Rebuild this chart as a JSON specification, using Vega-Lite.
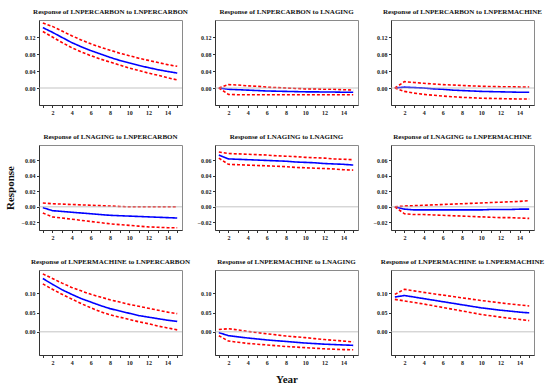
{
  "$schema": "https://vega.github.io/schema/vega-lite/v6.json",
  "padding": {"left": 3, "top": 7, "right": 5, "bottom": 4},
  "background": "white",
  "columns": 3,
  "spacing": {"row": 40, "column": 33},
  "bounds": "flush",
  "datasets": {
    "irf": [
      {"p":1,"x":1,"r":0.142,"lo":0.133,"hi":0.153},{"p":1,"x":2,"r":0.131,"lo":0.120,"hi":0.145},{"p":1,"x":3,"r":0.119,"lo":0.107,"hi":0.134},{"p":1,"x":4,"r":0.107,"lo":0.095,"hi":0.123},{"p":1,"x":5,"r":0.097,"lo":0.085,"hi":0.113},{"p":1,"x":6,"r":0.088,"lo":0.076,"hi":0.104},{"p":1,"x":7,"r":0.080,"lo":0.068,"hi":0.096},{"p":1,"x":8,"r":0.072,"lo":0.061,"hi":0.089},{"p":1,"x":9,"r":0.065,"lo":0.054,"hi":0.082},{"p":1,"x":10,"r":0.059,"lo":0.047,"hi":0.076},{"p":1,"x":11,"r":0.053,"lo":0.041,"hi":0.070},{"p":1,"x":12,"r":0.048,"lo":0.035,"hi":0.065},{"p":1,"x":13,"r":0.043,"lo":0.030,"hi":0.060},{"p":1,"x":14,"r":0.039,"lo":0.024,"hi":0.055},{"p":1,"x":15,"r":0.035,"lo":0.019,"hi":0.051},
      {"p":2,"x":1,"r":0,"lo":0,"hi":0},{"p":2,"x":2,"r":-0.003,"lo":-0.015,"hi":0.008},{"p":2,"x":3,"r":-0.004,"lo":-0.016,"hi":0.007},{"p":2,"x":4,"r":-0.005,"lo":-0.016,"hi":0.005},{"p":2,"x":5,"r":-0.006,"lo":-0.016,"hi":0.004},{"p":2,"x":6,"r":-0.007,"lo":-0.016,"hi":0.002},{"p":2,"x":7,"r":-0.0075,"lo":-0.016,"hi":0.001},{"p":2,"x":8,"r":-0.008,"lo":-0.016,"hi":0.000},{"p":2,"x":9,"r":-0.0085,"lo":-0.016,"hi":-0.001},{"p":2,"x":10,"r":-0.009,"lo":-0.016,"hi":-0.002},{"p":2,"x":11,"r":-0.009,"lo":-0.016,"hi":-0.002},{"p":2,"x":12,"r":-0.0095,"lo":-0.016,"hi":-0.003},{"p":2,"x":13,"r":-0.0095,"lo":-0.016,"hi":-0.003},{"p":2,"x":14,"r":-0.010,"lo":-0.016,"hi":-0.004},{"p":2,"x":15,"r":-0.010,"lo":-0.016,"hi":-0.005},
      {"p":3,"x":1,"r":0,"lo":0,"hi":0},{"p":3,"x":2,"r":0.002,"lo":-0.008,"hi":0.015},{"p":3,"x":3,"r":0.001,"lo":-0.012,"hi":0.013},{"p":3,"x":4,"r":0.000,"lo":-0.015,"hi":0.011},{"p":3,"x":5,"r":-0.002,"lo":-0.017,"hi":0.0095},{"p":3,"x":6,"r":-0.003,"lo":-0.019,"hi":0.008},{"p":3,"x":7,"r":-0.005,"lo":-0.0205,"hi":0.007},{"p":3,"x":8,"r":-0.006,"lo":-0.022,"hi":0.006},{"p":3,"x":9,"r":-0.007,"lo":-0.023,"hi":0.005},{"p":3,"x":10,"r":-0.008,"lo":-0.024,"hi":0.004},{"p":3,"x":11,"r":-0.0085,"lo":-0.0245,"hi":0.0035},{"p":3,"x":12,"r":-0.009,"lo":-0.025,"hi":0.003},{"p":3,"x":13,"r":-0.0095,"lo":-0.0255,"hi":0.003},{"p":3,"x":14,"r":-0.010,"lo":-0.026,"hi":0.0025},{"p":3,"x":15,"r":-0.010,"lo":-0.026,"hi":0.0025},
      {"p":4,"x":1,"r":-0.001,"lo":-0.008,"hi":0.005},{"p":4,"x":2,"r":-0.005,"lo":-0.013,"hi":0.004},{"p":4,"x":3,"r":-0.006,"lo":-0.0145,"hi":0.0035},{"p":4,"x":4,"r":-0.007,"lo":-0.016,"hi":0.003},{"p":4,"x":5,"r":-0.008,"lo":-0.0175,"hi":0.0025},{"p":4,"x":6,"r":-0.009,"lo":-0.019,"hi":0.002},{"p":4,"x":7,"r":-0.010,"lo":-0.0205,"hi":0.0015},{"p":4,"x":8,"r":-0.011,"lo":-0.022,"hi":0.001},{"p":4,"x":9,"r":-0.0115,"lo":-0.023,"hi":0.0005},{"p":4,"x":10,"r":-0.012,"lo":-0.024,"hi":0.000},{"p":4,"x":11,"r":-0.0125,"lo":-0.025,"hi":0.000},{"p":4,"x":12,"r":-0.013,"lo":-0.026,"hi":0.000},{"p":4,"x":13,"r":-0.0135,"lo":-0.0265,"hi":0.000},{"p":4,"x":14,"r":-0.014,"lo":-0.027,"hi":0.000},{"p":4,"x":15,"r":-0.0145,"lo":-0.027,"hi":0.000},
      {"p":5,"x":1,"r":0.067,"lo":0.063,"hi":0.071},{"p":5,"x":2,"r":0.062,"lo":0.055,"hi":0.069},{"p":5,"x":3,"r":0.0615,"lo":0.0545,"hi":0.0685},{"p":5,"x":4,"r":0.061,"lo":0.054,"hi":0.068},{"p":5,"x":5,"r":0.0605,"lo":0.0535,"hi":0.0675},{"p":5,"x":6,"r":0.060,"lo":0.053,"hi":0.067},{"p":5,"x":7,"r":0.0595,"lo":0.0525,"hi":0.066},{"p":5,"x":8,"r":0.059,"lo":0.052,"hi":0.0655},{"p":5,"x":9,"r":0.058,"lo":0.051,"hi":0.065},{"p":5,"x":10,"r":0.0575,"lo":0.0505,"hi":0.064},{"p":5,"x":11,"r":0.057,"lo":0.050,"hi":0.0635},{"p":5,"x":12,"r":0.056,"lo":0.0495,"hi":0.063},{"p":5,"x":13,"r":0.0555,"lo":0.049,"hi":0.062},{"p":5,"x":14,"r":0.055,"lo":0.048,"hi":0.0615},{"p":5,"x":15,"r":0.054,"lo":0.0475,"hi":0.061},
      {"p":6,"x":1,"r":0,"lo":0,"hi":0},{"p":6,"x":2,"r":-0.003,"lo":-0.009,"hi":0.001},{"p":6,"x":3,"r":-0.004,"lo":-0.010,"hi":0.0015},{"p":6,"x":4,"r":-0.004,"lo":-0.010,"hi":0.002},{"p":6,"x":5,"r":-0.004,"lo":-0.0105,"hi":0.0025},{"p":6,"x":6,"r":-0.004,"lo":-0.011,"hi":0.003},{"p":6,"x":7,"r":-0.004,"lo":-0.0115,"hi":0.0035},{"p":6,"x":8,"r":-0.004,"lo":-0.012,"hi":0.004},{"p":6,"x":9,"r":-0.004,"lo":-0.0125,"hi":0.0045},{"p":6,"x":10,"r":-0.004,"lo":-0.013,"hi":0.005},{"p":6,"x":11,"r":-0.0035,"lo":-0.0135,"hi":0.0055},{"p":6,"x":12,"r":-0.0035,"lo":-0.014,"hi":0.006},{"p":6,"x":13,"r":-0.0035,"lo":-0.014,"hi":0.0065},{"p":6,"x":14,"r":-0.003,"lo":-0.0145,"hi":0.007},{"p":6,"x":15,"r":-0.003,"lo":-0.015,"hi":0.008},
      {"p":7,"x":1,"r":0.138,"lo":0.124,"hi":0.150},{"p":7,"x":2,"r":0.123,"lo":0.110,"hi":0.138},{"p":7,"x":3,"r":0.109,"lo":0.097,"hi":0.126},{"p":7,"x":4,"r":0.097,"lo":0.085,"hi":0.115},{"p":7,"x":5,"r":0.086,"lo":0.073,"hi":0.106},{"p":7,"x":6,"r":0.077,"lo":0.062,"hi":0.097},{"p":7,"x":7,"r":0.068,"lo":0.052,"hi":0.090},{"p":7,"x":8,"r":0.060,"lo":0.044,"hi":0.083},{"p":7,"x":9,"r":0.054,"lo":0.038,"hi":0.077},{"p":7,"x":10,"r":0.048,"lo":0.032,"hi":0.071},{"p":7,"x":11,"r":0.042,"lo":0.026,"hi":0.066},{"p":7,"x":12,"r":0.038,"lo":0.021,"hi":0.061},{"p":7,"x":13,"r":0.034,"lo":0.015,"hi":0.056},{"p":7,"x":14,"r":0.030,"lo":0.010,"hi":0.051},{"p":7,"x":15,"r":0.027,"lo":0.005,"hi":0.047},
      {"p":8,"x":1,"r":-0.002,"lo":-0.010,"hi":0.006},{"p":8,"x":2,"r":-0.010,"lo":-0.024,"hi":0.008},{"p":8,"x":3,"r":-0.013,"lo":-0.027,"hi":0.005},{"p":8,"x":4,"r":-0.016,"lo":-0.030,"hi":0.001},{"p":8,"x":5,"r":-0.0185,"lo":-0.032,"hi":-0.002},{"p":8,"x":6,"r":-0.021,"lo":-0.034,"hi":-0.005},{"p":8,"x":7,"r":-0.023,"lo":-0.036,"hi":-0.008},{"p":8,"x":8,"r":-0.025,"lo":-0.038,"hi":-0.011},{"p":8,"x":9,"r":-0.027,"lo":-0.0395,"hi":-0.013},{"p":8,"x":10,"r":-0.029,"lo":-0.041,"hi":-0.015},{"p":8,"x":11,"r":-0.0305,"lo":-0.0425,"hi":-0.0175},{"p":8,"x":12,"r":-0.032,"lo":-0.044,"hi":-0.020},{"p":8,"x":13,"r":-0.033,"lo":-0.045,"hi":-0.022},{"p":8,"x":14,"r":-0.034,"lo":-0.046,"hi":-0.024},{"p":8,"x":15,"r":-0.035,"lo":-0.0465,"hi":-0.026},
      {"p":9,"x":1,"r":0.090,"lo":0.084,"hi":0.097},{"p":9,"x":2,"r":0.094,"lo":0.080,"hi":0.110},{"p":9,"x":3,"r":0.090,"lo":0.076,"hi":0.106},{"p":9,"x":4,"r":0.086,"lo":0.072,"hi":0.102},{"p":9,"x":5,"r":0.082,"lo":0.0675,"hi":0.0985},{"p":9,"x":6,"r":0.078,"lo":0.063,"hi":0.095},{"p":9,"x":7,"r":0.074,"lo":0.0585,"hi":0.0915},{"p":9,"x":8,"r":0.070,"lo":0.054,"hi":0.088},{"p":9,"x":9,"r":0.066,"lo":0.0495,"hi":0.0845},{"p":9,"x":10,"r":0.062,"lo":0.045,"hi":0.081},{"p":9,"x":11,"r":0.059,"lo":0.0415,"hi":0.078},{"p":9,"x":12,"r":0.056,"lo":0.038,"hi":0.075},{"p":9,"x":13,"r":0.0535,"lo":0.035,"hi":0.072},{"p":9,"x":14,"r":0.051,"lo":0.032,"hi":0.0695},{"p":9,"x":15,"r":0.049,"lo":0.029,"hi":0.067}
    ]
  },
  "concat": [
    {"width":143,"height":85,"title":"Response of LNPERCARBON to LNPERCARBON","layer":[
      {"data":{"name":"irf"},"transform":[{"filter":"datum.p==1"},{"fold":["r","lo","hi"],"as":["s","v"]}],
       "mark":{"type":"line","strokeWidth":1.6,"clip":true},
       "encoding":{
        "x":{"field":"x","type":"quantitative","scale":{"domain":[0.6,15.5]},"axis":{"title":null,"tickCount":40,"format":"d","values":[1,2,3,4,5,6,7,8,9,10,11,12,13,14,15],"labelExpr":"datum.value % 2 === 0 ? datum.label : ''"}},
        "y":{"field":"v","type":"quantitative","scale":{"domain":[-0.026,0.155]},"axis":{"title":null,"tickCount":40,"labelOverlap":false,"values":[0,0.04,0.08,0.12],"format":".2f"}},
        "color":{"field":"s","type":"nominal","scale":{"domain":["r","lo","hi"],"range":["#0000ff","#ff0000","#ff0000"]},"legend":null},
        "strokeDash":{"field":"s","type":"nominal","scale":{"domain":["r","lo","hi"],"range":[[1,0],[3,2],[3,2]]},"legend":null}}},
      {"data":{"values":[{}]},"mark":{"type":"rule","color":"#b4b4b4","strokeWidth":0.8},"encoding":{"y":{"datum":0,"type":"quantitative"}}}]},
    {"width":143,"height":85,"title":"Response of LNPERCARBON to LNAGING","layer":[
      {"data":{"name":"irf"},"transform":[{"filter":"datum.p==2"},{"fold":["r","lo","hi"],"as":["s","v"]}],
       "mark":{"type":"line","strokeWidth":1.6,"clip":true},
       "encoding":{
        "x":{"field":"x","type":"quantitative","scale":{"domain":[0.6,15.5]},"axis":{"title":null,"tickCount":40,"format":"d","values":[1,2,3,4,5,6,7,8,9,10,11,12,13,14,15],"labelExpr":"datum.value % 2 === 0 ? datum.label : ''"}},
        "y":{"field":"v","type":"quantitative","scale":{"domain":[-0.026,0.155]},"axis":{"title":null,"tickCount":40,"labelOverlap":false,"values":[0,0.04,0.08,0.12],"format":".2f"}},
        "color":{"field":"s","type":"nominal","scale":{"domain":["r","lo","hi"],"range":["#0000ff","#ff0000","#ff0000"]},"legend":null},
        "strokeDash":{"field":"s","type":"nominal","scale":{"domain":["r","lo","hi"],"range":[[1,0],[3,2],[3,2]]},"legend":null}}},
      {"data":{"values":[{}]},"mark":{"type":"rule","color":"#b4b4b4","strokeWidth":0.8},"encoding":{"y":{"datum":0,"type":"quantitative"}}}]},
    {"width":143,"height":85,"title":"Response of LNPERCARBON to LNPERMACHINE","layer":[
      {"data":{"name":"irf"},"transform":[{"filter":"datum.p==3"},{"fold":["r","lo","hi"],"as":["s","v"]}],
       "mark":{"type":"line","strokeWidth":1.6,"clip":true},
       "encoding":{
        "x":{"field":"x","type":"quantitative","scale":{"domain":[0.6,15.5]},"axis":{"title":null,"tickCount":40,"format":"d","values":[1,2,3,4,5,6,7,8,9,10,11,12,13,14,15],"labelExpr":"datum.value % 2 === 0 ? datum.label : ''"}},
        "y":{"field":"v","type":"quantitative","scale":{"domain":[-0.026,0.155]},"axis":{"title":null,"tickCount":40,"labelOverlap":false,"values":[0,0.04,0.08,0.12],"format":".2f"}},
        "color":{"field":"s","type":"nominal","scale":{"domain":["r","lo","hi"],"range":["#0000ff","#ff0000","#ff0000"]},"legend":null},
        "strokeDash":{"field":"s","type":"nominal","scale":{"domain":["r","lo","hi"],"range":[[1,0],[3,2],[3,2]]},"legend":null}}},
      {"data":{"values":[{}]},"mark":{"type":"rule","color":"#b4b4b4","strokeWidth":0.8},"encoding":{"y":{"datum":0,"type":"quantitative"}}}]},
    {"width":143,"height":85,"title":"Response of LNAGING to LNPERCARBON","layer":[
      {"data":{"name":"irf"},"transform":[{"filter":"datum.p==4"},{"fold":["r","lo","hi"],"as":["s","v"]}],
       "mark":{"type":"line","strokeWidth":1.6,"clip":true},
       "encoding":{
        "x":{"field":"x","type":"quantitative","scale":{"domain":[0.6,15.5]},"axis":{"title":null,"tickCount":40,"format":"d","values":[1,2,3,4,5,6,7,8,9,10,11,12,13,14,15],"labelExpr":"datum.value % 2 === 0 ? datum.label : ''"}},
        "y":{"field":"v","type":"quantitative","scale":{"domain":[-0.029,0.070]},"axis":{"title":"Response","titleFont":"Liberation Serif","titleFontWeight":"bold","titleFontSize":11,"titleColor":"#111","titlePadding":6,"tickCount":40,"labelOverlap":false,"values":[-0.02,0,0.02,0.04,0.06],"format":".2f"}},
        "color":{"field":"s","type":"nominal","scale":{"domain":["r","lo","hi"],"range":["#0000ff","#ff0000","#ff0000"]},"legend":null},
        "strokeDash":{"field":"s","type":"nominal","scale":{"domain":["r","lo","hi"],"range":[[1,0],[3,2],[3,2]]},"legend":null}}},
      {"data":{"values":[{}]},"mark":{"type":"rule","color":"#b4b4b4","strokeWidth":0.8},"encoding":{"y":{"datum":0,"type":"quantitative"}}}]},
    {"width":143,"height":85,"title":"Response of LNAGING to LNAGING","layer":[
      {"data":{"name":"irf"},"transform":[{"filter":"datum.p==5"},{"fold":["r","lo","hi"],"as":["s","v"]}],
       "mark":{"type":"line","strokeWidth":1.6,"clip":true},
       "encoding":{
        "x":{"field":"x","type":"quantitative","scale":{"domain":[0.6,15.5]},"axis":{"title":null,"tickCount":40,"format":"d","values":[1,2,3,4,5,6,7,8,9,10,11,12,13,14,15],"labelExpr":"datum.value % 2 === 0 ? datum.label : ''"}},
        "y":{"field":"v","type":"quantitative","scale":{"domain":[-0.029,0.070]},"axis":{"title":null,"tickCount":40,"labelOverlap":false,"values":[-0.02,0,0.02,0.04,0.06],"format":".2f"}},
        "color":{"field":"s","type":"nominal","scale":{"domain":["r","lo","hi"],"range":["#0000ff","#ff0000","#ff0000"]},"legend":null},
        "strokeDash":{"field":"s","type":"nominal","scale":{"domain":["r","lo","hi"],"range":[[1,0],[3,2],[3,2]]},"legend":null}}},
      {"data":{"values":[{}]},"mark":{"type":"rule","color":"#b4b4b4","strokeWidth":0.8},"encoding":{"y":{"datum":0,"type":"quantitative"}}}]},
    {"width":143,"height":85,"title":"Response of LNAGING to LNPERMACHINE","layer":[
      {"data":{"name":"irf"},"transform":[{"filter":"datum.p==6"},{"fold":["r","lo","hi"],"as":["s","v"]}],
       "mark":{"type":"line","strokeWidth":1.6,"clip":true},
       "encoding":{
        "x":{"field":"x","type":"quantitative","scale":{"domain":[0.6,15.5]},"axis":{"title":null,"tickCount":40,"format":"d","values":[1,2,3,4,5,6,7,8,9,10,11,12,13,14,15],"labelExpr":"datum.value % 2 === 0 ? datum.label : ''"}},
        "y":{"field":"v","type":"quantitative","scale":{"domain":[-0.029,0.070]},"axis":{"title":null,"tickCount":40,"labelOverlap":false,"values":[-0.02,0,0.02,0.04,0.06],"format":".2f"}},
        "color":{"field":"s","type":"nominal","scale":{"domain":["r","lo","hi"],"range":["#0000ff","#ff0000","#ff0000"]},"legend":null},
        "strokeDash":{"field":"s","type":"nominal","scale":{"domain":["r","lo","hi"],"range":[[1,0],[3,2],[3,2]]},"legend":null}}},
      {"data":{"values":[{}]},"mark":{"type":"rule","color":"#b4b4b4","strokeWidth":0.8},"encoding":{"y":{"datum":0,"type":"quantitative"}}}]},
    {"width":143,"height":85,"title":"Response of LNPERMACHINE to LNPERCARBON","layer":[
      {"data":{"name":"irf"},"transform":[{"filter":"datum.p==7"},{"fold":["r","lo","hi"],"as":["s","v"]}],
       "mark":{"type":"line","strokeWidth":1.6,"clip":true},
       "encoding":{
        "x":{"field":"x","type":"quantitative","scale":{"domain":[0.6,15.5]},"axis":{"title":null,"tickCount":40,"format":"d","values":[1,2,3,4,5,6,7,8,9,10,11,12,13,14,15],"labelExpr":"datum.value % 2 === 0 ? datum.label : ''"}},
        "y":{"field":"v","type":"quantitative","scale":{"domain":[-0.049,0.149]},"axis":{"title":null,"tickCount":40,"labelOverlap":false,"values":[0,0.05,0.10],"format":".2f"}},
        "color":{"field":"s","type":"nominal","scale":{"domain":["r","lo","hi"],"range":["#0000ff","#ff0000","#ff0000"]},"legend":null},
        "strokeDash":{"field":"s","type":"nominal","scale":{"domain":["r","lo","hi"],"range":[[1,0],[3,2],[3,2]]},"legend":null}}},
      {"data":{"values":[{}]},"mark":{"type":"rule","color":"#b4b4b4","strokeWidth":0.8},"encoding":{"y":{"datum":0,"type":"quantitative"}}}]},
    {"width":143,"height":85,"title":"Response of LNPERMACHINE to LNAGING","layer":[
      {"data":{"name":"irf"},"transform":[{"filter":"datum.p==8"},{"fold":["r","lo","hi"],"as":["s","v"]}],
       "mark":{"type":"line","strokeWidth":1.6,"clip":true},
       "encoding":{
        "x":{"field":"x","type":"quantitative","scale":{"domain":[0.6,15.5]},"axis":{"title":"Year","titleFont":"Liberation Serif","titleFontWeight":"bold","titleFontSize":11,"titleColor":"#111","titlePadding":8,"tickCount":40,"format":"d","values":[1,2,3,4,5,6,7,8,9,10,11,12,13,14,15],"labelExpr":"datum.value % 2 === 0 ? datum.label : ''"}},
        "y":{"field":"v","type":"quantitative","scale":{"domain":[-0.049,0.149]},"axis":{"title":null,"tickCount":40,"labelOverlap":false,"values":[0,0.05,0.10],"format":".2f"}},
        "color":{"field":"s","type":"nominal","scale":{"domain":["r","lo","hi"],"range":["#0000ff","#ff0000","#ff0000"]},"legend":null},
        "strokeDash":{"field":"s","type":"nominal","scale":{"domain":["r","lo","hi"],"range":[[1,0],[3,2],[3,2]]},"legend":null}}},
      {"data":{"values":[{}]},"mark":{"type":"rule","color":"#b4b4b4","strokeWidth":0.8},"encoding":{"y":{"datum":0,"type":"quantitative"}}}]},
    {"width":143,"height":85,"title":"Response of LNPERMACHINE to LNPERMACHINE","layer":[
      {"data":{"name":"irf"},"transform":[{"filter":"datum.p==9"},{"fold":["r","lo","hi"],"as":["s","v"]}],
       "mark":{"type":"line","strokeWidth":1.6,"clip":true},
       "encoding":{
        "x":{"field":"x","type":"quantitative","scale":{"domain":[0.6,15.5]},"axis":{"title":null,"tickCount":40,"format":"d","values":[1,2,3,4,5,6,7,8,9,10,11,12,13,14,15],"labelExpr":"datum.value % 2 === 0 ? datum.label : ''"}},
        "y":{"field":"v","type":"quantitative","scale":{"domain":[-0.049,0.149]},"axis":{"title":null,"tickCount":40,"labelOverlap":false,"values":[0,0.05,0.10],"format":".2f"}},
        "color":{"field":"s","type":"nominal","scale":{"domain":["r","lo","hi"],"range":["#0000ff","#ff0000","#ff0000"]},"legend":null},
        "strokeDash":{"field":"s","type":"nominal","scale":{"domain":["r","lo","hi"],"range":[[1,0],[3,2],[3,2]]},"legend":null}}},
      {"data":{"values":[{}]},"mark":{"type":"rule","color":"#b4b4b4","strokeWidth":0.8},"encoding":{"y":{"datum":0,"type":"quantitative"}}}]}
  ],
  "config": {
    "view": {"stroke": "#8a8a8a", "strokeWidth": 1},
    "axis": {"domain": true, "domainColor": "#333", "domainWidth": 1, "grid": false, "labelFont": "Liberation Serif", "labelFontWeight": "bold", "labelFontSize": 6, "labelColor": "#222", "tickColor": "#333", "tickSize": 2.5, "labelPadding": 1.5, "labelOverlap": false},
    "title": {"font": "Liberation Serif", "fontWeight": "bold", "fontSize": 7, "offset": 5, "color": "#111"}
  }
}
